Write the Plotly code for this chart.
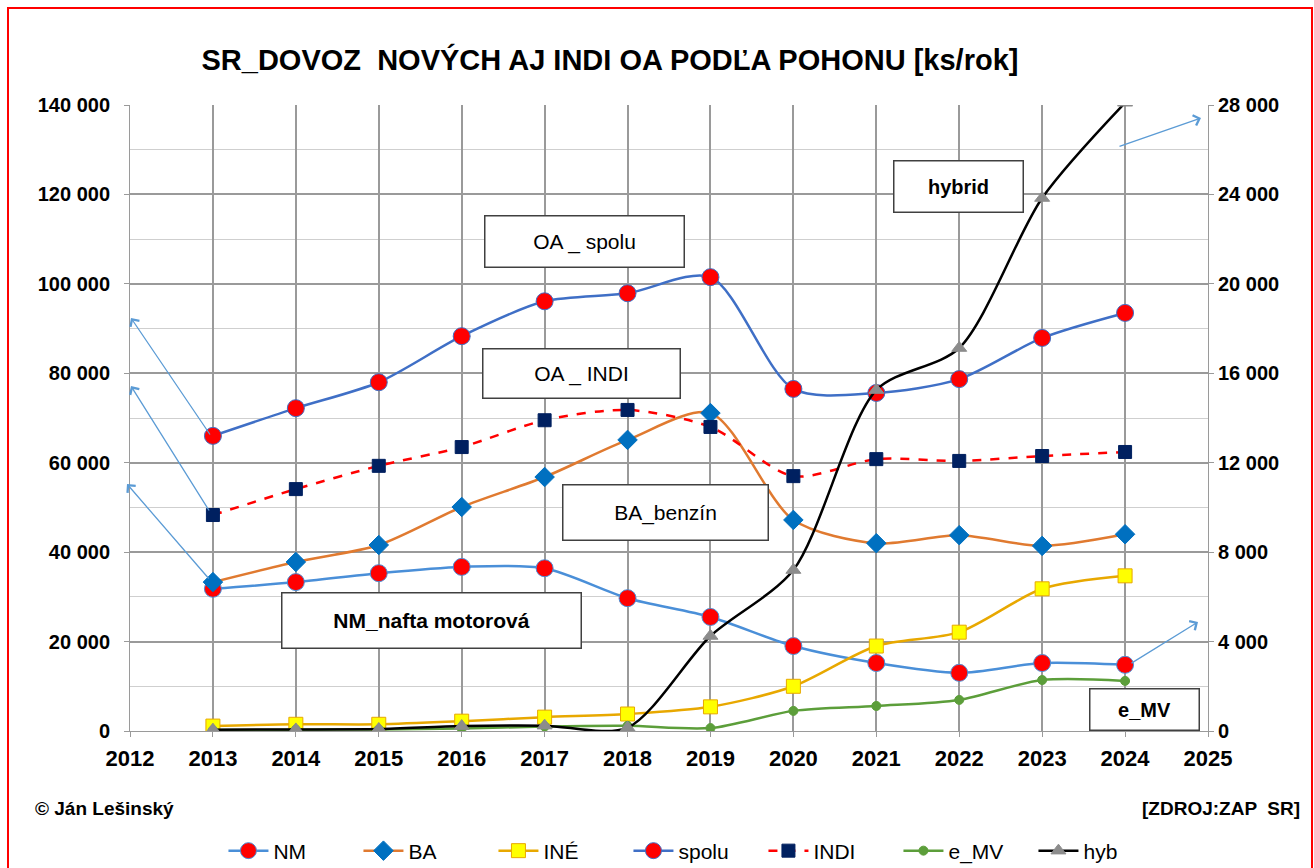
import plotly.graph_objects as go

years = [2013, 2014, 2015, 2016, 2017, 2018, 2019, 2020, 2021, 2022, 2023, 2024]

# left axis [ks/rok]
nm = [31800, 33300, 35300, 36700, 36400, 29700, 25500, 19000, 15200, 13000, 15200, 14800]
ba = [33300, 37800, 41600, 50100, 56800, 65100, 71100, 47200, 42000, 43800, 41400, 44000]
ine = [1100, 1500, 1500, 2200, 3100, 3800, 5400, 10000, 19000, 22100, 31800, 34700]
spolu = [66000, 72200, 78000, 88300, 96100, 97900, 101500, 76500, 75600, 78700, 87900, 93500]
indi = [48300, 54100, 59300, 63500, 69500, 71800, 68000, 57000, 60800, 60400, 61500, 62400]
# right axis
e_mv = [40, 60, 70, 110, 200, 230, 130, 900, 1120, 1390, 2280, 2240]
hyb = [60, 70, 90, 220, 240, 150, 4250, 7200, 15250, 17130, 23840, 28100]

left_ticks = [0, 20000, 40000, 60000, 80000, 100000, 120000, 140000]
right_ticks = [0, 4000, 8000, 12000, 16000, 20000, 24000, 28000]
x_ticks = list(range(2012, 2026))

def fmt(v):
    return f"{v:,}".replace(",", " ")

FONT = "Liberation Sans"

fig = go.Figure()

def add(name, y, color, msym, mcolor, msize, mline, yaxis="y", dash="solid", width=2.5):
    fig.add_trace(go.Scatter(
        x=years, y=y, name=name, mode="lines+markers", yaxis=yaxis,
        line=dict(color=color, width=width, shape="spline", smoothing=0.8, dash=dash),
        marker=dict(symbol=msym, color=mcolor, size=msize, line=dict(color=mline, width=1)),
    ))

add("NM", nm, "#4A8FD8", "circle", "#FF0000", 17, "#4A8FD8")
add("BA", ba, "#E07A30", "diamond", "#0070C0", 15, "#0070C0")
add("INÉ", ine, "#E8A800", "square", "#FFFF00", 14, "#E8A800")
add("spolu", spolu, "#3F6FC6", "circle", "#FF0000", 17, "#3F6FC6")
add("INDI", indi, "#FF0000", "square", "#002060", 13, "#002060", dash="dash")
add("e_MV", e_mv, "#5C9E3A", "circle", "#5C9E3A", 9, "#5C9E3A", yaxis="y2")
add("hyb", hyb, "#000000", "triangle-up", "#8C8C8C", 13, "#8C8C8C", yaxis="y2")

fig.update_layout(
    width=1314, height=868,
    margin=dict(l=130, r=106, t=105, b=137, autoexpand=False),
    paper_bgcolor="white", plot_bgcolor="white",
    font=dict(family=FONT, color="black"),
    title=dict(text="<b>SR_DOVOZ  NOVÝCH AJ INDI OA PODĽA POHONU [ks/rok]</b>",
               x=610 / 1314, xanchor="center", y=1 - 60 / 868, yanchor="middle",
               font=dict(size=29, family=FONT)),
    xaxis=dict(range=[2012, 2025], tickvals=x_ticks, ticktext=["<b>%d</b>" % v for v in x_ticks],
               showgrid=True, gridcolor="#9A9A9A", gridwidth=1.5, showline=True, linecolor="#9A9A9A",
               ticks="outside", tickcolor="#9A9A9A", ticklen=5, ticklabelstandoff=3,
               tickfont=dict(size=22, family=FONT, color="black"),
               zeroline=False, automargin=False),
    yaxis=dict(range=[0, 140000], tickvals=left_ticks, ticktext=["<b>" + fmt(v) + "</b>" for v in left_ticks],
               showgrid=True, gridcolor="#9A9A9A", gridwidth=1.5,
               minor=dict(dtick=10000, tick0=0, showgrid=True, gridcolor="#CFCFCF", gridwidth=1),
               showline=True, linecolor="#9A9A9A", ticks="outside", tickcolor="#9A9A9A", ticklen=5,
               ticklabelstandoff=10, automargin=False,
               tickfont=dict(size=20, family=FONT, color="black"), zeroline=False),
    yaxis2=dict(range=[0, 28000], overlaying="y", side="right",
                tickvals=right_ticks, ticktext=["<b>" + fmt(v) + "</b>" for v in right_ticks],
                showgrid=False, showline=True, linecolor="#9A9A9A", ticks="outside",
                tickcolor="#9A9A9A", ticklen=5, automargin=False,
                tickfont=dict(size=20, family=FONT, color="black"), zeroline=False),
    legend=dict(orientation="h", x=0.525, xanchor="center", yref="container",
                y=(868 - 851) / 868, yanchor="middle",
                font=dict(size=21, family=FONT), itemwidth=40, entrywidth=80,
                traceorder="normal", bgcolor="rgba(0,0,0,0)"),
    showlegend=True,
)

PX_PER_YEAR = (1208 - 130) / 13
def dx(px):
    return 2012 + (px - 130) / PX_PER_YEAR
def dy(py):
    return (731 - py) * 140000 / 626
def px_paper_x(px):
    return (px - 130) / 1078
def px_paper_y(py):
    return (731 - py) / 626

boxes = [
    ("OA _ spolu", 584, 241, 198, 50, False, 21),
    ("OA _ INDI", 581, 373, 196, 48, False, 21),
    ("BA_benzín", 665, 512, 204, 54, False, 21),
    ("NM_nafta motorová", 431, 620, 298, 54, True, 21),
    ("hybrid", 958, 186, 128, 50, True, 20),
    ("e_MV", 1144, 709, 108, 40, True, 20),
]
for txt, cx, cy, w, h, bold, fs in boxes:
    fig.add_annotation(
        x=dx(cx), y=dy(cy), xref="x", yref="y", text=("<b>%s</b>" % txt) if bold else txt,
        showarrow=False, width=w, height=h, borderpad=0, bgcolor="white",
        bordercolor="#404040", borderwidth=1.5, font=dict(size=fs, family=FONT, color="black"),
        xanchor="center", yanchor="middle", valign="middle",
    )

arrows = [
    ((131, 318), (211, 436)),
    ((131, 386), (210, 512)),
    ((127, 484), (210, 580)),
    ((1201, 118), (1118, 147)),
    ((1198, 622), (1130, 664)),
]
for (hx, hy), (tx, ty) in arrows:
    fig.add_annotation(
        x=dx(hx), y=dy(hy), ax=dx(tx), ay=dy(ty), xref="x", yref="y", axref="x", ayref="y",
        showarrow=True, arrowhead=4, arrowsize=1.6, arrowwidth=1.3, arrowcolor="#5B9BD5", text="",
    )

fig.add_annotation(x=px_paper_x(33), y=px_paper_y(808), xref="paper", yref="paper",
                   text="<b>© Ján Lešinský</b>", showarrow=False, xanchor="left", yanchor="middle",
                   font=dict(size=19, family=FONT))
fig.add_annotation(x=px_paper_x(1302), y=px_paper_y(808), xref="paper", yref="paper",
                   text="<b>[ZDROJ:ZAP  SR]</b>", showarrow=False, xanchor="right", yanchor="middle",
                   font=dict(size=19, family=FONT))

fig.add_shape(type="rect", xref="paper", yref="paper",
              x0=px_paper_x(8), x1=px_paper_x(1312), y0=px_paper_y(900), y1=px_paper_y(8),
              line=dict(color="#FF0000", width=2), fillcolor="rgba(0,0,0,0)", layer="below")

fig.write_html("out.html", config={"displayModeBar": False},
               post_script="document.body.style.margin='0';document.body.style.overflow='hidden';")
